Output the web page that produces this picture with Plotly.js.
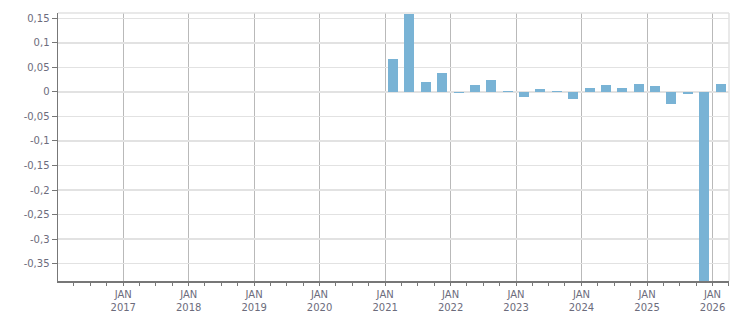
<!DOCTYPE html>
<html>
<head>
<meta charset="utf-8">
<script src="https://cdn.plot.ly/plotly-3.0.1.min.js"></script>
<style>html,body{margin:0;padding:0;background:#fff;}#chart{width:751px;height:313px;}</style>
</head>
<body>
<div id="chart"></div>
<script>
// Quarterly dates (mid-quarter)
const quarters = [
  '2021-02-15','2021-05-15','2021-08-15','2021-11-15',
  '2022-02-15','2022-05-15','2022-08-15','2022-11-15',
  '2023-02-15','2023-05-15','2023-08-15','2023-11-15',
  '2024-02-15','2024-05-15','2024-08-15','2024-11-15',
  '2025-02-15','2025-05-15','2025-08-15','2025-11-15',
  '2026-02-15'
];
const values = [
  0.067, 0.159, 0.020, 0.039,
  -0.002, 0.014, 0.025, 0.002,
  -0.010, 0.006, 0.002, -0.014,
  0.008, 0.014, 0.008, 0.016,
  0.012, -0.024, -0.004, -0.42,
  0.016
];
const xTickVals = ['2017-01-01','2018-01-01','2019-01-01','2020-01-01','2021-01-01','2022-01-01','2023-01-01','2024-01-01','2025-01-01','2026-01-01'];
const xTickText = ['JAN<br>2017','JAN<br>2018','JAN<br>2019','JAN<br>2020','JAN<br>2021','JAN<br>2022','JAN<br>2023','JAN<br>2024','JAN<br>2025','JAN<br>2026'];
const yTickVals = [0.15, 0.1, 0.05, 0, -0.05, -0.1, -0.15, -0.2, -0.25, -0.3, -0.35];
const yTickText = ['0,15','0,1','0,05','0','-0,05','-0,1','-0,15','-0,2','-0,25','-0,3','-0,35'];

const tickFont = {family: 'DejaVu Sans, Verdana, sans-serif', size: 10, color: '#6c6c7c'};

Plotly.newPlot('chart', [{
  type: 'bar',
  x: quarters,
  y: values,
  width: 4.8e9,
  marker: {color: '#79b3d5', line: {width: 0}},
  hoverinfo: 'x+y'
}], {
  width: 751, height: 313,
  margin: {l: 58, r: 22, t: 13, b: 32, pad: 0},
  paper_bgcolor: '#ffffff', plot_bgcolor: '#ffffff',
  showlegend: false,
  bargap: 0,
  xaxis: {
    type: 'date',
    range: ['2016-01-03', '2026-04-03'],
    tickvals: xTickVals, ticktext: xTickText,
    tickfont: tickFont,
    showgrid: true, gridcolor: '#b9b9b9', gridwidth: 1,
    ticks: 'outside', ticklen: 3, tickcolor: '#777777', tickwidth: 1,
    showline: true, linecolor: '#777777', linewidth: 2,
    zeroline: false,
    minor: {dtick: 'M3', tick0: '2016-01-01', ticks: 'outside', ticklen: 3, tickcolor: '#777777', showgrid: false},
    fixedrange: true
  },
  yaxis: {
    range: [-0.3855, 0.1608],
    tickvals: yTickVals, ticktext: yTickText,
    tickfont: tickFont,
    showgrid: true, gridcolor: '#e2e2e2', gridwidth: 1.5,
    ticks: 'outside', ticklen: 5, tickcolor: '#777777', tickwidth: 1,
    showline: true, linecolor: '#777777', linewidth: 1.5,
    zeroline: false,
    fixedrange: true
  },
  shapes: [
    {type: 'line', xref: 'paper', yref: 'paper', x0: 0, x1: 1, y0: 1, y1: 1, line: {color: '#e2e2e2', width: 1.5}},
    {type: 'line', xref: 'paper', yref: 'paper', x0: 1, x1: 1, y0: 0, y1: 1, line: {color: '#e2e2e2', width: 1.5}}
  ]
}, {displayModeBar: false, staticPlot: true});
</script>
</body>
</html>
